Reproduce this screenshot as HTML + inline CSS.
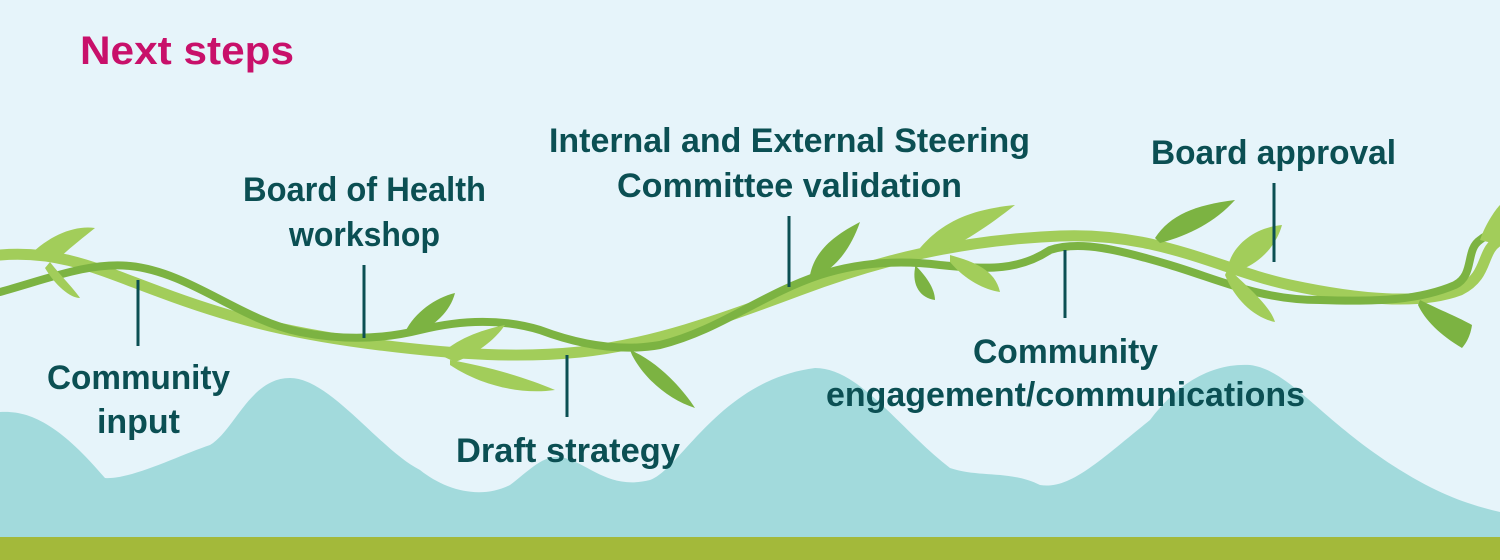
<!DOCTYPE html>
<html><head><meta charset="utf-8"><style>
html,body{margin:0;padding:0;background:#e6f4fa;}
svg{display:block}
text{font-family:"Liberation Sans",sans-serif;font-weight:bold;fill:#0b4f53;font-size:34px}
</style></head><body>
<svg width="1500" height="560" viewBox="0 0 1500 560" xmlns="http://www.w3.org/2000/svg">
<rect width="1500" height="560" fill="#e6f4fa"/>
<path d="M0,412 C30,410 60,425 105,478 C130,480 180,455 210,445 C235,430 250,378 290,378 C330,378 380,450 420,470 C445,490 480,500 510,485 C530,470 545,452 565,458 C590,465 610,490 650,480 C680,470 720,380 815,368 C860,368 900,430 950,468 C980,478 1010,470 1040,485 C1070,490 1100,460 1150,420 C1180,380 1215,363 1250,365 C1290,370 1320,420 1400,470 C1440,495 1470,505 1500,512 L1500,537 L0,537 Z" fill="#a2dadc"/>
<rect x="0" y="537" width="1500" height="23" fill="#a3b93a"/>
<path d="M0,255 C60,250 100,270 160,292 C240,322 300,335 380,345 C460,355 520,358 580,352 C650,345 720,320 800,290 C880,260 960,240 1060,236 C1160,232 1220,270 1290,285 C1360,300 1420,305 1460,290 C1490,275 1480,250 1500,240" fill="none" stroke="#a2cd5a" stroke-width="11" stroke-linecap="round"/>
<path d="M0,292 C50,278 90,262 130,266 C190,272 240,320 300,332 C340,340 380,340 420,330 C460,320 500,318 540,330 C580,345 620,352 660,345 C720,330 760,295 820,275 C860,262 900,260 940,265 C990,270 1020,270 1050,250 C1080,240 1120,250 1170,265 C1220,280 1260,300 1320,300 C1380,302 1420,300 1455,285 C1475,275 1465,250 1480,240 C1490,232 1500,230 1500,230" fill="none" stroke="#7cb342" stroke-width="8" stroke-linecap="round"/>
<g fill="#a2cd5a">
<path d="M30,255 C50,235 75,225 95,228 C80,240 65,252 55,262 Z"/>
<path d="M50,262 C60,275 75,290 80,298 C70,298 55,285 45,268 Z"/>
<path d="M440,355 C455,340 480,330 505,325 C495,340 475,355 455,362 Z"/>
<path d="M450,360 C480,365 520,375 555,390 C520,395 480,385 450,365 Z"/>
<path d="M920,248 C940,225 965,210 1015,205 C990,225 960,245 935,255 Z"/>
<path d="M950,255 C975,262 995,270 1000,292 C985,290 965,280 950,262 Z"/>
<path d="M1228,268 C1230,250 1250,228 1282,225 C1275,250 1255,265 1240,270 Z"/>
<path d="M1228,268 C1245,285 1270,305 1275,322 C1255,318 1235,300 1225,275 Z"/>
<path d="M1480,240 C1485,225 1495,210 1500,205 L1500,245 Z"/>
</g>
<g fill="#7cb342">
<path d="M405,332 C415,312 435,298 455,293 C450,312 435,325 415,335 Z"/>
<path d="M630,350 C655,360 680,385 695,408 C670,400 645,380 632,355 Z"/>
<path d="M810,275 C815,250 835,235 860,222 C852,245 840,262 825,272 Z"/>
<path d="M915,265 C925,275 935,288 935,300 C920,298 912,285 915,268 Z"/>
<path d="M1155,238 C1170,215 1195,205 1235,200 C1215,222 1190,235 1160,243 Z"/>
<path d="M1420,300 C1440,310 1460,318 1472,325 C1470,340 1462,348 1462,348 C1440,335 1425,320 1418,305 Z"/>
</g>
<g stroke="#0b4f53" stroke-width="3">
<line x1="138" y1="280" x2="138" y2="346"/>
<line x1="364" y1="265" x2="364" y2="338"/>
<line x1="567" y1="355" x2="567" y2="417"/>
<line x1="789" y1="216" x2="789" y2="287"/>
<line x1="1065" y1="250" x2="1065" y2="318"/>
<line x1="1274" y1="183" x2="1274" y2="262"/>
</g>
<text x="80" y="64" style="fill:#c8106a;font-size:40px" textLength="214" lengthAdjust="spacingAndGlyphs">Next steps</text>
<text x="47" y="389" textLength="183" lengthAdjust="spacingAndGlyphs">Community</text>
<text x="97" y="433" textLength="83" lengthAdjust="spacingAndGlyphs">input</text>
<text x="243" y="201" textLength="243" lengthAdjust="spacingAndGlyphs">Board of Health</text>
<text x="289" y="246" textLength="151" lengthAdjust="spacingAndGlyphs">workshop</text>
<text x="456" y="462" textLength="224" lengthAdjust="spacingAndGlyphs">Draft strategy</text>
<text x="549" y="152" textLength="481" lengthAdjust="spacingAndGlyphs">Internal and External Steering</text>
<text x="617" y="197" textLength="345" lengthAdjust="spacingAndGlyphs">Committee validation</text>
<text x="1151" y="164" textLength="245" lengthAdjust="spacingAndGlyphs">Board approval</text>
<text x="973" y="363" textLength="185" lengthAdjust="spacingAndGlyphs">Community</text>
<text x="826" y="406" textLength="479" lengthAdjust="spacingAndGlyphs">engagement/communications</text>
</svg>
</body></html>
